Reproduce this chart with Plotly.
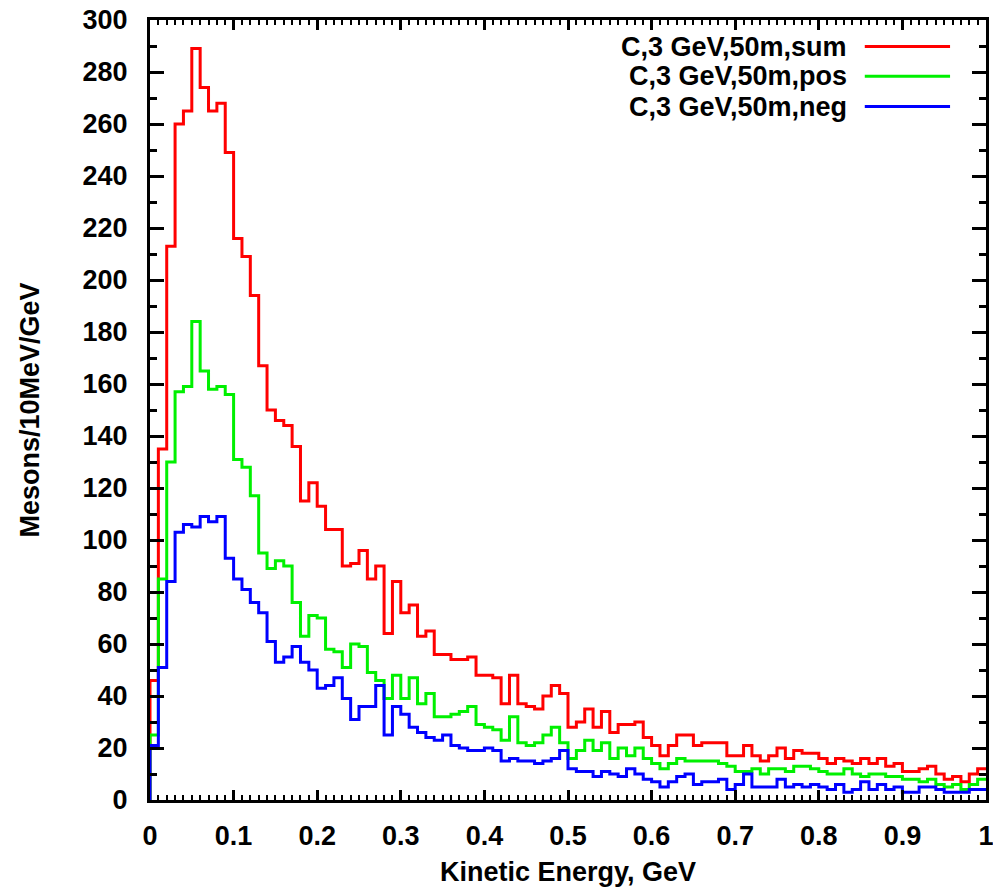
import numpy as np
import plotly.graph_objects as go

# 100 bins of 10 MeV from 0 to 1 GeV
bin_width = 0.01
n_bins = 100

sum_vals = [46, 135, 213, 260, 265, 289, 274, 265, 268, 249, 216, 209, 194, 167, 150, 146, 144,
            136, 115, 122, 113, 104, 104, 90, 91, 96, 85, 90, 64, 84, 72, 75, 63, 65, 56, 56, 54,
            54, 55, 48, 48, 47, 37, 48, 37, 36, 35, 40, 44, 41, 28, 30, 35, 28, 34, 26,
            29, 29, 30, 24, 21, 17, 21, 25, 25, 21,
            22, 22, 22, 17, 17, 21, 17, 15, 17, 20, 16, 19,
            18, 18, 16, 14, 16, 15, 14, 16, 14, 16, 13, 14,
            11, 11, 12, 13, 10, 8, 9, 7, 10, 12]

pos_vals = [25, 85, 130, 157, 159, 184, 165, 158, 159, 156, 131, 128, 117, 95, 89, 92, 90,
            76, 63, 71, 70, 58, 57, 51, 60, 59, 49, 46, 39, 48, 39, 47, 37, 41, 32, 32, 33,
            34, 36, 29, 28, 27, 23, 32, 22, 21, 22, 25, 28, 22, 16, 19, 23, 19, 22, 16,
            20, 17, 20, 16, 14, 12, 14, 16, 15, 15,
            15, 15, 14, 13, 11, 11, 12, 10, 12, 12, 11, 13,
            13, 12, 11, 10, 10, 12, 10, 9, 10, 10, 9, 9,
            8, 8, 7, 8, 6, 5, 6, 4, 6, 8]

neg_vals = [21, 51, 84, 103, 106, 105, 109, 107, 109, 93, 85, 81, 76, 72, 61, 53, 55,
            59, 53, 50, 43, 44, 47, 39, 31, 36, 36, 44, 25, 36, 33, 28, 26, 24, 23, 25, 21,
            20, 19, 19, 20, 19, 15, 16, 15, 15, 14, 15, 16, 19, 12, 11, 11, 9, 11, 10,
            9, 12, 10, 8, 7, 5, 7, 9, 10, 6,
            7, 7, 8, 4, 6, 10, 5, 5, 5, 8, 5, 6,
            5, 6, 5, 4, 6, 3, 4, 7, 4, 6, 4, 5,
            3, 3, 5, 5, 4, 3, 3, 3, 4, 4]

series_names = ["C,3 GeV,50m,sum", "C,3 GeV,50m,pos", "C,3 GeV,50m,neg"]
series_colors = ["#ff0000", "#00f000", "#0000ff"]

edges = np.round(np.arange(n_bins + 1) * bin_width, 2)

FONT = "Liberation Sans"
FS = 27

fig = go.Figure()
for name, vals, col in zip(series_names, [sum_vals, pos_vals, neg_vals], series_colors):
    xs = np.concatenate([[edges[0]], edges])
    ys = np.concatenate([[0], vals, [vals[-1]]])
    fig.add_trace(go.Scatter(x=xs, y=ys, mode="lines", line=dict(color=col, width=3, shape="hv"),
                             name=name, showlegend=False))

# gnuplot-style key: text on the left, line sample on the right
key_y = [0.966, 0.928, 0.889]
for name, col, ky in zip(series_names, series_colors, key_y):
    fig.add_annotation(x=0.836, y=ky, xref="paper", yref="paper", text=name, showarrow=False,
                       xanchor="right", yanchor="middle",
                       font=dict(family=FONT, size=FS, color="black", weight="bold"))
    fig.add_shape(type="line", xref="paper", yref="paper", x0=0.855, x1=0.957, y0=ky, y1=ky,
                  line=dict(color=col, width=3))

fig.update_layout(
    width=993, height=893,
    margin=dict(l=150, r=7, t=20, b=93),
    paper_bgcolor="white", plot_bgcolor="white",
    font=dict(family=FONT, size=FS, color="black", weight="bold"),
    xaxis=dict(range=[0, 1], dtick=0.1, tick0=0, ticks="inside", ticklen=10, tickwidth=3,
               tickcolor="black", showline=True, linecolor="black", linewidth=3, mirror="ticks",
               showgrid=False, zeroline=False, ticklabelstandoff=10, automargin=False,
               ticklabeloverflow="allow",
               minor=dict(dtick=0.01, ticks="inside", ticklen=5, tickwidth=2, tickcolor="black", showgrid=False),
               title=dict(text="Kinetic Energy, GeV", standoff=12,
                          font=dict(family=FONT, size=FS, weight="bold"))),
    yaxis=dict(range=[0, 300], dtick=20, tick0=0, ticks="inside", ticklen=14, tickwidth=3,
               tickcolor="black", showline=True, linecolor="black", linewidth=3, mirror="ticks",
               showgrid=False, zeroline=False, ticklabelstandoff=14, automargin=False,
               ticklabeloverflow="allow",
               minor=dict(dtick=10, ticks="inside", ticklen=7, tickwidth=3, tickcolor="black", showgrid=False),
               title=dict(text="Mesons/10MeV/GeV", standoff=36,
                          font=dict(family=FONT, size=FS, weight="bold"))),
)

fig.write_html("out.html")
